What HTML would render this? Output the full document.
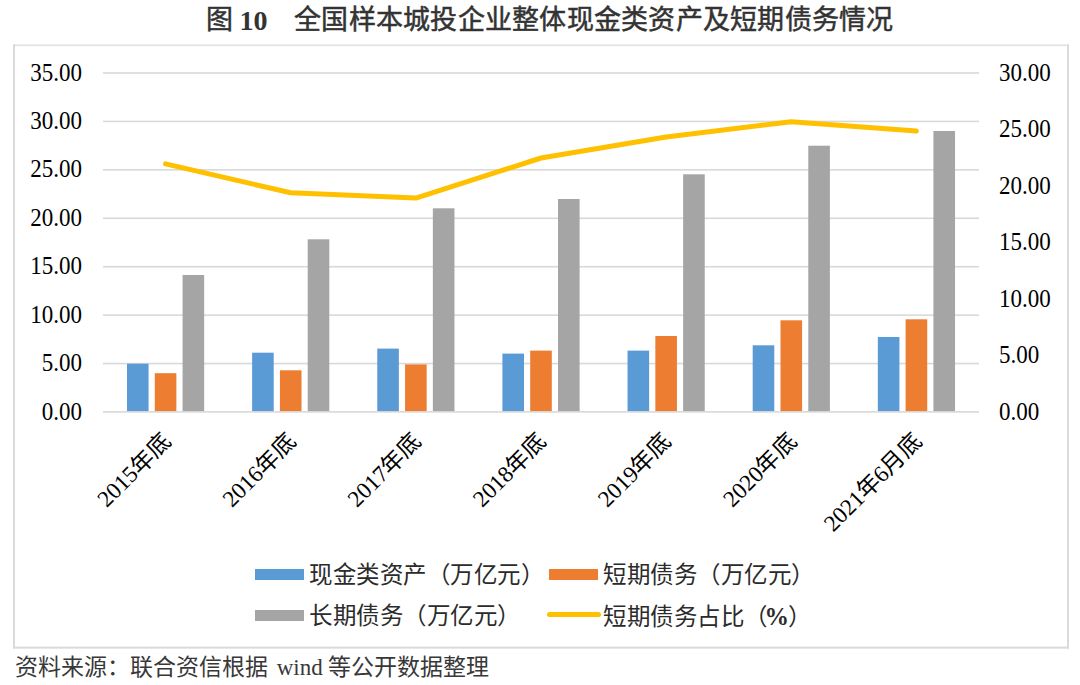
<!DOCTYPE html>
<html lang="zh-CN"><head><meta charset="utf-8"><style>
html,body{margin:0;padding:0;background:#fff;}
body{width:1080px;height:685px;position:relative;overflow:hidden;}
.t{position:absolute;white-space:nowrap;}
.tt{top:4px;font:400 27px/32px "Liberation Sans",sans-serif;color:#333;-webkit-text-stroke:0.5px #333;}
.tb{top:5px;font:bold 28px/32px "Liberation Serif",serif;color:#333;}
svg{position:absolute;left:0;top:0;}
.ax{font-family:"Liberation Serif",serif;font-size:23px;fill:#000;}
.xl{font-family:"Liberation Serif",serif;font-size:23.2px;fill:#000;}
.lg{position:absolute;font:350 23.5px/26px "Liberation Sans",sans-serif;letter-spacing:0.5px;color:#2b2b2b;}
.sw{position:absolute;width:49px;height:11px;}
#src{left:15px;top:655px;font:23px/26px "Liberation Serif",serif;color:#383838;}
</style></head><body>
<div class="t tt" style="left:206.4px">图</div><div class="t tb" style="left:239.5px">10</div><div class="t tt" style="left:294.1px;letter-spacing:0.25px">全国样本城投企业整体现金类资产及短期债务情况</div>
<svg width="1080" height="685" viewBox="0 0 1080 685">
<rect x="13" y="44.5" width="1056" height="1.6" fill="#e0e0e0"/>
<rect x="13" y="646.6" width="1056" height="2" fill="#dadada"/>
<rect x="13" y="44.5" width="2" height="604.1" fill="#dadada"/>
<rect x="1067" y="44.5" width="2" height="604.1" fill="#dadada"/>
<rect x="103.0" y="362.77" width="876.0" height="1.6" fill="#d9d9d9"/>
<rect x="103.0" y="314.34" width="876.0" height="1.6" fill="#d9d9d9"/>
<rect x="103.0" y="265.91" width="876.0" height="1.6" fill="#d9d9d9"/>
<rect x="103.0" y="217.48" width="876.0" height="1.6" fill="#d9d9d9"/>
<rect x="103.0" y="169.05" width="876.0" height="1.6" fill="#d9d9d9"/>
<rect x="103.0" y="120.62" width="876.0" height="1.6" fill="#d9d9d9"/>
<rect x="103.0" y="72.19" width="876.0" height="1.6" fill="#d9d9d9"/>
<rect x="126.97" y="363.70" width="21.6" height="48.00" fill="#5b9bd5"/>
<rect x="154.77" y="373.20" width="21.6" height="38.50" fill="#ed7d31"/>
<rect x="182.57" y="275.00" width="21.6" height="136.70" fill="#a5a5a5"/>
<rect x="252.11" y="352.70" width="21.6" height="59.00" fill="#5b9bd5"/>
<rect x="279.91" y="370.30" width="21.6" height="41.40" fill="#ed7d31"/>
<rect x="307.71" y="239.30" width="21.6" height="172.40" fill="#a5a5a5"/>
<rect x="377.26" y="348.60" width="21.6" height="63.10" fill="#5b9bd5"/>
<rect x="405.06" y="364.40" width="21.6" height="47.30" fill="#ed7d31"/>
<rect x="432.86" y="208.30" width="21.6" height="203.40" fill="#a5a5a5"/>
<rect x="502.40" y="353.60" width="21.6" height="58.10" fill="#5b9bd5"/>
<rect x="530.20" y="350.60" width="21.6" height="61.10" fill="#ed7d31"/>
<rect x="558.00" y="199.00" width="21.6" height="212.70" fill="#a5a5a5"/>
<rect x="627.54" y="350.60" width="21.6" height="61.10" fill="#5b9bd5"/>
<rect x="655.34" y="336.00" width="21.6" height="75.70" fill="#ed7d31"/>
<rect x="683.14" y="174.30" width="21.6" height="237.40" fill="#a5a5a5"/>
<rect x="752.69" y="345.30" width="21.6" height="66.40" fill="#5b9bd5"/>
<rect x="780.49" y="320.30" width="21.6" height="91.40" fill="#ed7d31"/>
<rect x="808.29" y="145.70" width="21.6" height="266.00" fill="#a5a5a5"/>
<rect x="877.83" y="337.00" width="21.6" height="74.70" fill="#5b9bd5"/>
<rect x="905.63" y="319.30" width="21.6" height="92.40" fill="#ed7d31"/>
<rect x="933.43" y="131.00" width="21.6" height="280.70" fill="#a5a5a5"/>
<rect x="103.0" y="411.10" width="876.0" height="1.6" fill="#d9d9d9"/>
<polyline points="165.57,163.90 290.71,192.80 415.86,198.10 541.00,158.00 666.14,137.00 791.29,121.70 916.43,131.10" fill="none" stroke="#ffc000" stroke-width="5" stroke-linejoin="round" stroke-linecap="round"/>
<text class="ax" transform="translate(82 419.60) scale(1 1.05)" text-anchor="end">0.00</text>
<text class="ax" transform="translate(82 371.17) scale(1 1.05)" text-anchor="end">5.00</text>
<text class="ax" transform="translate(82 322.74) scale(1 1.05)" text-anchor="end">10.00</text>
<text class="ax" transform="translate(82 274.31) scale(1 1.05)" text-anchor="end">15.00</text>
<text class="ax" transform="translate(82 225.88) scale(1 1.05)" text-anchor="end">20.00</text>
<text class="ax" transform="translate(82 177.45) scale(1 1.05)" text-anchor="end">25.00</text>
<text class="ax" transform="translate(82 129.02) scale(1 1.05)" text-anchor="end">30.00</text>
<text class="ax" transform="translate(82 80.59) scale(1 1.05)" text-anchor="end">35.00</text>
<text class="ax" transform="translate(999 419.60) scale(1 1.05)">0.00</text>
<text class="ax" transform="translate(999 363.10) scale(1 1.05)">5.00</text>
<text class="ax" transform="translate(999 306.60) scale(1 1.05)">10.00</text>
<text class="ax" transform="translate(999 250.10) scale(1 1.05)">15.00</text>
<text class="ax" transform="translate(999 193.60) scale(1 1.05)">20.00</text>
<text class="ax" transform="translate(999 137.10) scale(1 1.05)">25.00</text>
<text class="ax" transform="translate(999 80.60) scale(1 1.05)">30.00</text>
<text class="xl" x="172.07" y="443" text-anchor="end" transform="rotate(-45 172.07 443)">2015年底</text>
<text class="xl" x="297.21" y="443" text-anchor="end" transform="rotate(-45 297.21 443)">2016年底</text>
<text class="xl" x="422.36" y="443" text-anchor="end" transform="rotate(-45 422.36 443)">2017年底</text>
<text class="xl" x="547.50" y="443" text-anchor="end" transform="rotate(-45 547.50 443)">2018年底</text>
<text class="xl" x="672.64" y="443" text-anchor="end" transform="rotate(-45 672.64 443)">2019年底</text>
<text class="xl" x="797.79" y="443" text-anchor="end" transform="rotate(-45 797.79 443)">2020年底</text>
<text class="xl" x="922.93" y="443" text-anchor="end" transform="rotate(-45 922.93 443)">2021年6月底</text>
</svg>
<div class="sw" style="left:255px;top:569px;background:#5b9bd5"></div>
<div class="lg" style="left:309px;top:562px">现金类资产（万亿元）</div>
<div class="sw" style="left:549px;top:569px;background:#ed7d31"></div>
<div class="lg" style="left:603px;top:562px">短期债务（万亿元）</div>
<div class="sw" style="left:255px;top:610px;background:#a5a5a5"></div>
<div class="lg" style="left:309px;top:603px">长期债务（万亿元）</div>
<div style="position:absolute;left:546.5px;top:612.2px;width:54.5px;height:5.2px;border-radius:2.6px;background:#ffc000"></div>
<div class="lg" style="left:603px;top:603px">短期债务占比（<span style="font:bold 24.5px 'Liberation Serif',serif;margin-left:-3px;margin-right:-1.5px">%</span>）</div>
<div class="t" id="src">资料来源：联合资信根据 <span style="margin-left:3px;margin-right:-1px">wind</span> 等公开数据整理</div>
</body></html>
